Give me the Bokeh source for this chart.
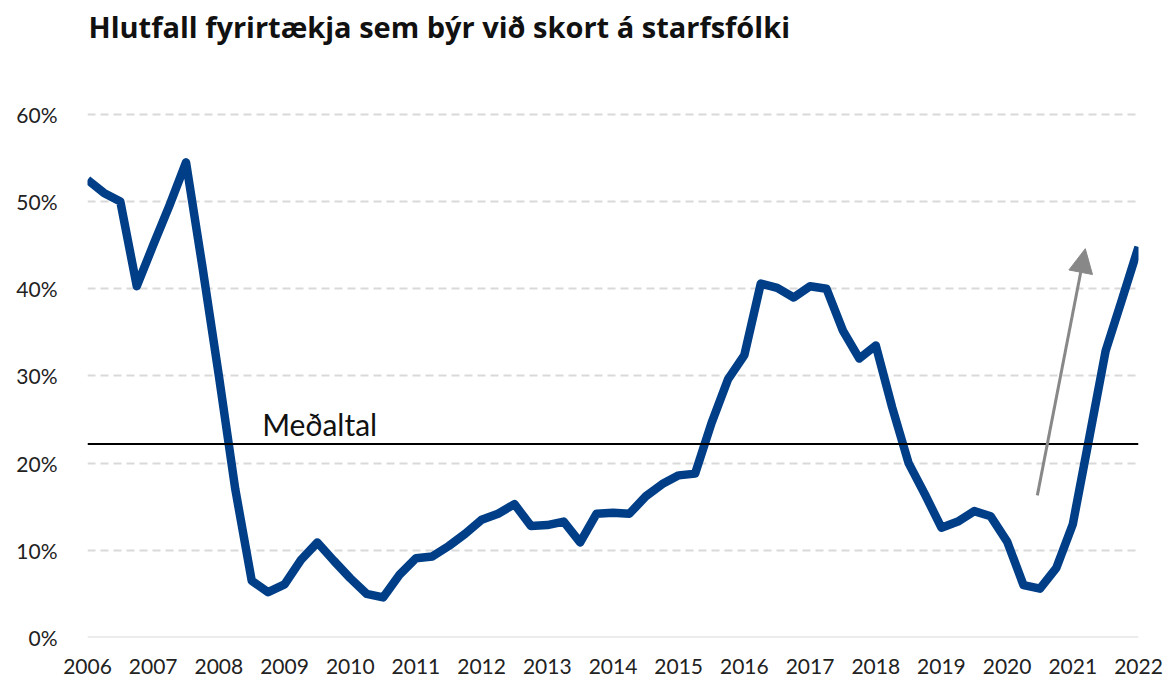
from bokeh.plotting import figure
from bokeh.models import (Span, Label, Arrow, NormalHead, FixedTicker,
                          PrintfTickFormatter, Range1d, ColumnDataSource)
from bokeh.embed import file_html
from bokeh.resources import INLINE

# ---- data (quarterly, 2006Q1 .. 2022Q1), percent of firms ----
years = list(range(2006, 2023))
quarter_year = [y for y in range(2006, 2022) for _ in range(4)] + [2022]
quarter_num = [1, 2, 3, 4] * 16 + [1]
share = [
    52.5, 51.0, 50.0, 40.3,   # 2006
    45.0, 49.6, 54.5, 42.5,   # 2007
    30.0, 17.0, 6.5, 5.2,     # 2008
    6.1, 8.9, 10.9, 8.8,      # 2009
    6.8, 5.0, 4.6, 7.2,       # 2010
    9.1, 9.3, 10.5, 11.9,     # 2011
    13.5, 14.2, 15.3, 12.8,   # 2012
    12.9, 13.3, 10.9, 14.2,   # 2013
    14.3, 14.2, 16.2, 17.6,   # 2014
    18.6, 18.8, 24.6, 29.6,   # 2015
    32.4, 40.6, 40.1, 39.0,   # 2016
    40.3, 40.0, 35.2, 32.0,   # 2017
    33.5, 26.4, 20.0, 16.4,   # 2018
    12.6, 13.3, 14.5, 13.9,   # 2019
    11.0, 6.0, 5.6, 8.0,      # 2020
    13.0, 22.9, 32.9, 38.8,   # 2021
    44.8,                     # 2022
]
mean_value = 22.2
mean_label = "Meðaltal"
y_ticks = [0, 10, 20, 30, 40, 50, 60]
arrow_start = (2020.46, 16.3)
arrow_end = (2021.19, 44.6)
title_text = "Hlutfall fyrirtækja sem býr við skort á starfsfólki"

x_vals = [y + (q - 1) / 4 for y, q in zip(quarter_year, quarter_num)]
src = ColumnDataSource(dict(x=x_vals, y=share))

FONT = "Lato"
Y_END = 73.07   # frame reaches the top of the canvas; title sits inside it

p = figure(width=1166, height=679, output_backend="svg", toolbar_location=None,
           x_range=Range1d(2006, 2022), y_range=Range1d(0, Y_END),
           min_border_left=87, min_border_right=28, min_border_top=0,
           min_border_bottom=42)

p.outline_line_color = None
p.background_fill_color = "white"
p.border_fill_color = "white"

p.xgrid.grid_line_color = None
p.ygrid.grid_line_color = "#d9d9d9"
p.ygrid.grid_line_dash = "8 5"
p.ygrid.grid_line_width = 2

for ax in (p.xaxis, p.yaxis):
    ax.axis_line_color = None
    ax.major_tick_line_color = None
    ax.minor_tick_line_color = None
    ax.major_label_text_font = FONT
    ax.major_label_text_font_size = "21px"
    ax.major_label_text_color = "#222222"

p.xaxis.ticker = FixedTicker(ticks=years)
p.xaxis.major_label_standoff = 15
p.yaxis.ticker = FixedTicker(ticks=y_ticks)
p.yaxis.formatter = PrintfTickFormatter(format="%d%%")
p.yaxis.major_label_standoff = 24

p.add_layout(Span(location=0, dimension="width", line_color="#d9d9d9", line_width=2))
p.add_layout(Span(location=mean_value, dimension="width", line_color="#000000", line_width=2))

p.line("x", "y", source=src, line_color="#003f88", line_width=8.5, line_join="round")

p.add_layout(Arrow(end=NormalHead(size=24, fill_color="#888888", line_color="#888888"),
                   x_start=arrow_start[0], y_start=arrow_start[1],
                   x_end=arrow_end[0], y_end=arrow_end[1],
                   line_color="#888888", line_width=3))

p.add_layout(Label(x=2008.66, y=mean_value, text=mean_label, text_font=FONT,
                   text_font_size="30px", text_color="#111111", y_offset=20,
                   text_baseline="alphabetic"))

# chart title, drawn at the top of the frame
p.add_layout(Label(x=2006, y=Y_END, text=title_text, text_font="Open Sans",
                   text_font_size="29px", text_font_style="bold", text_color="#111111",
                   x_offset=1, y_offset=-26, text_baseline="alphabetic"))

open("out.html", "w").write(file_html(p, INLINE))
